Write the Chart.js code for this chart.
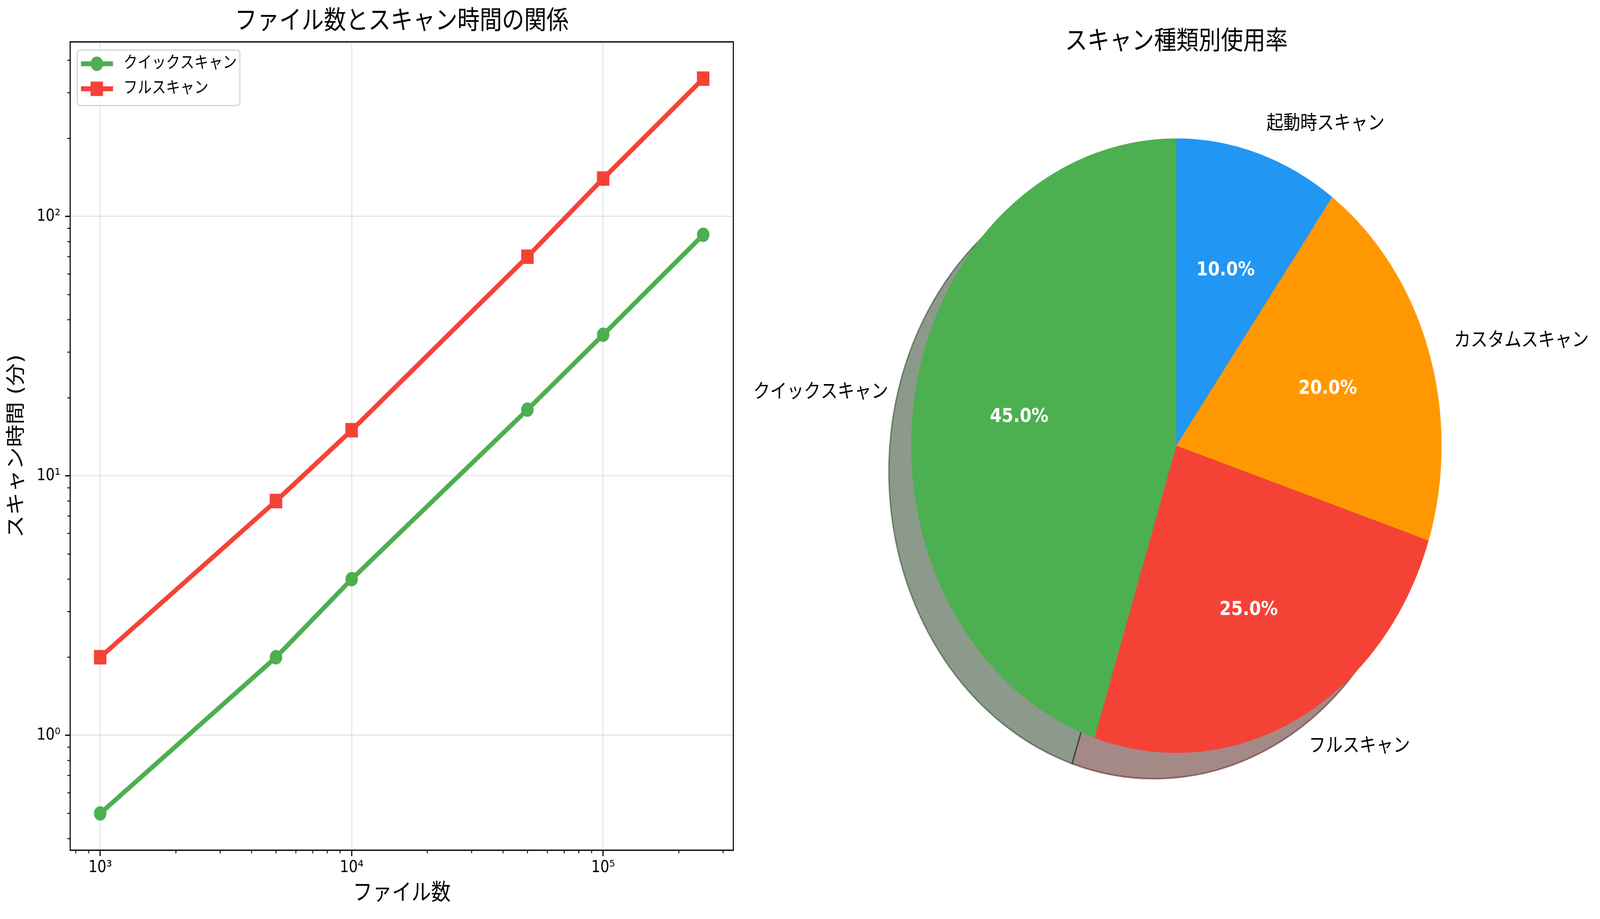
<!DOCTYPE html>
<html lang="ja">
<head>
<meta charset="utf-8">
<title>スキャン性能</title>
<script src="https://cdn.jsdelivr.net/npm/chart.js@4.4.0/dist/chart.umd.min.js"></script>
<style>
  html, body { margin: 0; padding: 0; background: #fff; overflow: hidden; }
  body { position: relative; width: 100vw; height: 100vh; }
  canvas { position: absolute; top: 0; }
</style>
</head>
<body>
<canvas id="lineChart" width="2382" height="2352"></canvas>
<canvas id="pieChart" width="2512" height="2352"></canvas>
<script>
// 左: ファイル数とスキャン時間
const fileCounts = [1000, 5000, 10000, 50000, 100000, 250000];
const quickTimes = [0.5, 2, 4, 18, 35, 85];
const fullTimes = [2, 8, 15, 70, 140, 340];
const seriesNames = ['クイックスキャン', 'フルスキャン'];
const seriesColors = ['#4CAF50', '#F44336'];

const xMajorTicks = [1e3, 1e4, 1e5];
const xTickLabels = ['10³', '10⁴', '10⁵'];
const yMajorTicks = [1, 10, 100];
const yTickLabels = ['10⁰', '10¹', '10²'];

// 右: スキャン種類別使用率
const scanTypes = ['クイックスキャン', 'フルスキャン', 'カスタムスキャン', '起動時スキャン'];
const usageRates = [45, 25, 20, 10];
const sliceColors = ['#4CAF50', '#F44336', '#FF9800', '#2196F3'];

const FONT = "'DejaVu Sans', 'Noto Sans CJK JP', sans-serif";
Chart.defaults.font.family = FONT;
Chart.defaults.color = '#000';

const GRID = 'rgba(176,176,176,0.3)';
const NONE = 'rgba(0,0,0,0)';

// 描画は 4744x2352 の座標で行い、CSS で表示領域に合わせる
const PAGE_W = 4744, PAGE_H = 2352;
const kx = window.innerWidth / PAGE_W;
const ky = window.innerHeight / PAGE_H;
function place(id, left) {
  const c = document.getElementById(id);
  c.style.left = (left * kx) + 'px';
  c.style.width = (c.width * kx) + 'px';
  c.style.height = (c.height * ky) + 'px';
  return c;
}
const lineCanvas = place('lineChart', 0);
const pieCanvas = place('pieChart', 2232);

// 1..9 x 10^n の目盛り（主目盛りは 10^n）
function logTicks(min, max, majors) {
  const ticks = [];
  for (let e = Math.floor(Math.log10(min)); e <= Math.ceil(Math.log10(max)); e++) {
    for (let n = 1; n <= 9; n++) {
      const v = n * Math.pow(10, e);
      if (v >= min && v <= max) {
        ticks.push({ value: v, major: majors.some(m => Math.abs(m - v) < 1e-6 * m) });
      }
    }
  }
  return ticks;
}

function majorLabel(majors, labels) {
  return (value) => {
    const i = majors.findIndex(m => Math.abs(m - value) < 1e-6 * m);
    return i >= 0 ? labels[i] : '';
  };
}

const gridOpts = {
  color: c => (c.tick && c.tick.major ? GRID : NONE),
  lineWidth: 3.3,
  tickColor: c => (c.tick && c.tick.major ? '#000' : NONE),
  tickLength: 15,
  tickWidth: 3.3
};

// 副目盛り（短い）と枠線
const axesFrame = {
  id: 'axesFrame',
  afterDatasetsDraw(chart) {
    const { ctx, chartArea: a } = chart;
    const xs = chart.scales.x, ys = chart.scales.y;
    ctx.save();
    ctx.strokeStyle = '#000';
    ctx.lineWidth = 2.5;
    ctx.beginPath();
    xs.ticks.filter(t => !t.major).forEach(t => {
      const px = xs.getPixelForValue(t.value);
      ctx.moveTo(px, a.bottom);
      ctx.lineTo(px, a.bottom + 8.3);
    });
    ys.ticks.filter(t => !t.major).forEach(t => {
      const py = ys.getPixelForValue(t.value);
      ctx.moveTo(a.left - 8.3, py);
      ctx.lineTo(a.left, py);
    });
    ctx.stroke();
    ctx.lineWidth = 3.3;
    ctx.strokeRect(a.left, a.top, a.right - a.left, a.bottom - a.top);
    ctx.restore();
  }
};

// 線＋マーカーの凡例（左上）
const lineLegend = {
  id: 'lineLegend',
  afterDraw(chart) {
    const { ctx, chartArea: a } = chart;
    const bx = a.left + 21, by = a.top + 21, bw = 482, bh = 142, r = 8;
    ctx.save();
    ctx.beginPath();
    ctx.roundRect(bx, by, bw, bh, r);
    ctx.fillStyle = 'rgba(255,255,255,0.8)';
    ctx.fill();
    ctx.strokeStyle = 'rgba(204,204,204,0.8)';
    ctx.lineWidth = 3.3;
    ctx.stroke();
    chart.data.datasets.forEach((ds, i) => {
      const cy = by + 35 + i * 64;
      ctx.strokeStyle = ds.borderColor;
      ctx.lineWidth = ds.borderWidth;
      ctx.beginPath();
      ctx.moveTo(bx + 11, cy);
      ctx.lineTo(bx + 106, cy);
      ctx.stroke();
      const mx = bx + 58;
      ctx.fillStyle = ds.borderColor;
      ctx.beginPath();
      if (ds.pointStyle === 'rect') {
        const s = ds.pointRadius * Math.SQRT1_2;
        ctx.rect(mx - s, cy - s, 2 * s, 2 * s);
      } else {
        ctx.arc(mx, cy, ds.pointRadius, 0, Math.PI * 2);
      }
      ctx.fill();
      ctx.fillStyle = '#000';
      ctx.font = '42px ' + FONT;
      ctx.textAlign = 'left';
      ctx.textBaseline = 'middle';
      ctx.fillText(ds.label, bx + 137, cy);
    });
    ctx.restore();
  }
};

const X_MIN = 759.6, X_MAX = 329500;
const Y_MIN = 0.3607, Y_MAX = 471;

new Chart(lineCanvas, {
  type: 'line',
  data: {
    datasets: [
      {
        label: seriesNames[0],
        data: fileCounts.map((x, i) => ({ x, y: quickTimes[i] })),
        borderColor: seriesColors[0],
        backgroundColor: seriesColors[0],
        borderWidth: 12.5,
        pointStyle: 'circle',
        pointRadius: 18.5,
        pointBorderWidth: 0,
        tension: 0
      },
      {
        label: seriesNames[1],
        data: fileCounts.map((x, i) => ({ x, y: fullTimes[i] })),
        borderColor: seriesColors[1],
        backgroundColor: seriesColors[1],
        borderWidth: 12.5,
        pointStyle: 'rect',
        pointRadius: 26.2,
        pointBorderWidth: 0,
        tension: 0
      }
    ]
  },
  options: {
    responsive: false,
    animation: false,
    devicePixelRatio: 1,
    events: [],
    layout: { padding: 0 },
    plugins: {
      legend: { display: false },
      tooltip: { enabled: false },
      title: {
        display: true,
        text: 'ファイル数とスキャン時間の関係',
        color: '#000',
        font: { size: 66, weight: 'normal', lineHeight: 1.2 },
        padding: { top: 17, bottom: 11 }
      }
    },
    scales: {
      x: {
        type: 'logarithmic',
        min: X_MIN,
        max: X_MAX,
        afterBuildTicks: s => { s.ticks = logTicks(X_MIN, X_MAX, xMajorTicks); },
        afterFit: s => { s.height = 176; },
        grid: gridOpts,
        border: { display: false },
        ticks: {
          autoSkip: false, maxRotation: 0, minRotation: 0, padding: 5,
          font: { size: 42 }, color: '#000',
          callback: majorLabel(xMajorTicks, xTickLabels)
        },
        title: {
          display: true, text: 'ファイル数', color: '#000',
          font: { size: 58, lineHeight: 1.2 }, padding: { top: 0, bottom: 29 }
        }
      },
      y: {
        type: 'logarithmic',
        min: Y_MIN,
        max: Y_MAX,
        afterBuildTicks: s => { s.ticks = logTicks(Y_MIN, Y_MAX, yMajorTicks); },
        afterFit: s => { s.width = 208; },
        grid: gridOpts,
        border: { display: false },
        ticks: {
          autoSkip: false, padding: 14,
          font: { size: 42 }, color: '#000',
          callback: majorLabel(yMajorTicks, yTickLabels)
        },
        title: {
          display: true, text: 'スキャン時間 (分)', color: '#000',
          font: { size: 58, lineHeight: 1.2 }, padding: { top: 16, bottom: 0 }
        }
      },
      y2: {
        type: 'linear',
        position: 'right',
        afterFit: s => { s.width = 208; },
        grid: { display: false },
        border: { display: false },
        ticks: { display: false }
      }
    }
  },
  plugins: [axesFrame, lineLegend]
});

// 円グラフ: matplotlib と同じく上から反時計回りに並ぶよう逆順で渡す
const pieLabels = scanTypes.slice().reverse();
const pieValues = usageRates.slice().reverse();
const pieColors = sliceColors.slice().reverse();

function shadeOf(hex) {
  const n = parseInt(hex.slice(1), 16);
  const r = Math.round(((n >> 16) & 255) * 0.3);
  const g = Math.round(((n >> 8) & 255) * 0.3);
  const b = Math.round((n & 255) * 0.3);
  return `rgba(${r},${g},${b},0.5)`;
}

const pieShadow = {
  id: 'pieShadow',
  beforeDatasetsDraw(chart) {
    const { ctx } = chart;
    const meta = chart.getDatasetMeta(0);
    const colors = chart.data.datasets[0].backgroundColor;
    const ox = -66, oy = 66;
    ctx.save();
    meta.data.forEach((arc, i) => {
      const p = arc.getProps(['x', 'y', 'startAngle', 'endAngle', 'outerRadius'], true);
      const shade = shadeOf(colors[i]);
      ctx.beginPath();
      ctx.moveTo(p.x + ox, p.y + oy);
      ctx.arc(p.x + ox, p.y + oy, p.outerRadius, p.startAngle, p.endAngle);
      ctx.closePath();
      ctx.fillStyle = shade;
      ctx.fill();
      ctx.strokeStyle = shade;
      ctx.lineWidth = 4;
      ctx.stroke();
    });
    ctx.restore();
  }
};

const pieText = {
  id: 'pieText',
  afterDatasetsDraw(chart) {
    const { ctx } = chart;
    const meta = chart.getDatasetMeta(0);
    const values = chart.data.datasets[0].data;
    const total = values.reduce((s, v) => s + v, 0);
    ctx.save();
    ctx.textBaseline = 'middle';
    meta.data.forEach((arc, i) => {
      const p = arc.getProps(['x', 'y', 'startAngle', 'endAngle', 'outerRadius'], true);
      const mid = (p.startAngle + p.endAngle) / 2;
      const c = Math.cos(mid), s = Math.sin(mid);
      ctx.font = 'bold 50px ' + FONT;
      ctx.fillStyle = '#fff';
      ctx.textAlign = 'center';
      ctx.fillText((values[i] / total * 100).toFixed(1) + '%', p.x + c * p.outerRadius * 0.6, p.y + s * p.outerRadius * 0.6);
      ctx.font = '50px ' + FONT;
      ctx.fillStyle = '#000';
      ctx.textAlign = c > 0 ? 'left' : 'right';
      ctx.fillText(chart.data.labels[i], p.x + c * p.outerRadius * 1.1, p.y + s * p.outerRadius * 1.1);
    });
    ctx.restore();
  }
};

new Chart(pieCanvas, {
  type: 'pie',
  data: {
    labels: pieLabels,
    datasets: [{
      data: pieValues,
      backgroundColor: pieColors,
      borderWidth: 0,
      hoverOffset: 0,
      clip: false
    }]
  },
  options: {
    responsive: false,
    animation: false,
    devicePixelRatio: 1,
    events: [],
    layout: { padding: { left: 300, right: 300, top: 0, bottom: 425 } },
    plugins: {
      legend: { display: false },
      tooltip: { enabled: false },
      title: {
        display: true,
        text: 'スキャン種類別使用率',
        color: '#000',
        font: { size: 66, weight: 'normal', lineHeight: 1.2 },
        padding: { top: 69, bottom: 206 }
      }
    }
  },
  plugins: [pieShadow, pieText]
});
</script>
</body>
</html>
